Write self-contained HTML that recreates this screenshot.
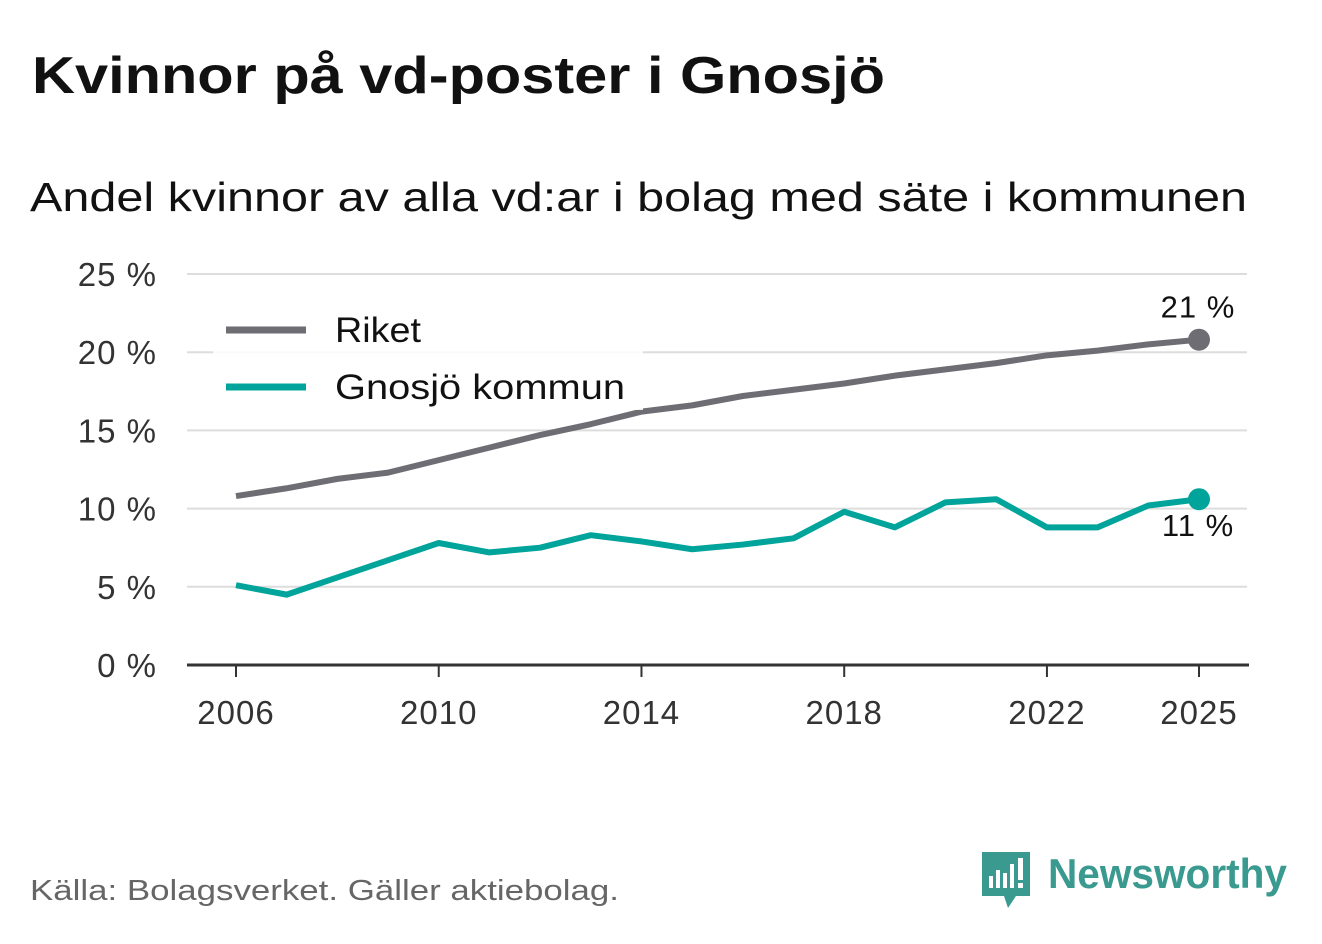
<!DOCTYPE html>
<html><head><meta charset="utf-8"><style>
body{margin:0;background:#fff;}
svg text{font-family:"Liberation Sans",sans-serif;}
</style></head><body>
<svg width="1322" height="939" xmlns="http://www.w3.org/2000/svg">
<text x="32" y="93" font-size="52" font-weight="bold" fill="#111" textLength="853" lengthAdjust="spacingAndGlyphs">Kvinnor på vd-poster i Gnosjö</text>
<text x="30" y="211" font-size="41" fill="#111" textLength="1217" lengthAdjust="spacingAndGlyphs">Andel kvinnor av alla vd:ar i bolag med säte i kommunen</text>
<g id="grid"></g>
<g id="lines"></g>
<g id="legend"></g>
<text x="30" y="900" font-size="29" fill="#666" textLength="589" lengthAdjust="spacingAndGlyphs">Källa: Bolagsverket. Gäller aktiebolag.</text>
<g>
<path d="M982 852 h48 v44 h-14 l-8 12 l-4 -12 h-22 z" fill="#3a9a8f"/>
<rect x="989" y="876" width="4" height="12" fill="#fff"/><rect x="996" y="870" width="4" height="18" fill="#fff"/><rect x="1003" y="873" width="4" height="15" fill="#fff"/><rect x="1010" y="864" width="4" height="24" fill="#fff"/><rect x="1018" y="858" width="5" height="22" fill="#fff"/><rect x="1018" y="883" width="5" height="5" fill="#fff"/>
<text x="1048" y="888" font-size="42" font-weight="bold" fill="#3a9a8f" textLength="239" lengthAdjust="spacingAndGlyphs">Newsworthy</text>
</g>
</svg>
<script>
const years=[2006,2007,2008,2009,2010,2011,2012,2013,2014,2015,2016,2017,2018,2019,2020,2021,2022,2023,2024,2025];
const riket=[10.8,11.3,11.9,12.3,13.1,13.9,14.7,15.4,16.2,16.6,17.2,17.6,18.0,18.5,18.9,19.3,19.8,20.1,20.5,20.8];
const gnosjo=[5.1,4.5,5.6,6.7,7.8,7.2,7.5,8.3,7.9,7.4,7.7,8.1,9.8,8.8,10.4,10.6,8.8,8.8,10.2,10.6];
const yTicks=[0,5,10,15,20,25];
const xTicks=[2006,2010,2014,2018,2022,2025];
const NS="http://www.w3.org/2000/svg";
const X=y=>236+(y-2006)*(1199-236)/19;
const Y=v=>665-v*(665-274)/25;
function mk(t,a,p){const e=document.createElementNS(NS,t);for(const k in a)e.setAttribute(k,a[k]);p.appendChild(e);return e;}
const grid=document.getElementById('grid'),lines=document.getElementById('lines'),lg=document.getElementById('legend');
yTicks.forEach(v=>{
 if(v>0){const l=mk('line',{x1:187,x2:1247,y1:Y(v),y2:Y(v),stroke:'#ddd','stroke-width':2},grid);
 
 }
 const t=mk('text',{x:157,y:Y(v)+12,'font-size':33,fill:'#333','text-anchor':'end','letter-spacing':1},grid);t.textContent=v+' %';
 
 
});
const ax=mk('line',{x1:187,x2:1249,y1:665,y2:665,stroke:'#333','stroke-width':3},grid);


xTicks.forEach(y=>{
 mk('line',{x1:X(y),x2:X(y),y1:665,y2:677,stroke:'#333','stroke-width':2},grid);
 const t=mk('text',{x:X(y),y:724,'font-size':33,fill:'#333','text-anchor':'middle','letter-spacing':1},grid);t.textContent=y;
 
 
});
function series(vals,col,name){
 const p=mk('polyline',{points:vals.map((v,i)=>X(years[i])+','+Y(v)).join(' '),fill:'none',stroke:col,'stroke-width':6,'stroke-linejoin':'round'},lines);
 
 
 const n=vals.length-1;
 const c=mk('circle',{cx:X(years[n]),cy:Y(vals[n]),r:11,fill:col},lines);
 
 
}
series(riket,'#6e6d74','riket');
series(gnosjo,'#00a49a','gnosjo');
const l1=mk('text',{x:1198,y:Y(riket[19])-22,'font-size':31,fill:'#111','text-anchor':'middle','letter-spacing':1},lines);l1.textContent=Math.round(riket[19])+' %';


const l2=mk('text',{x:1198,y:Y(gnosjo[19])+37,'font-size':31,fill:'#111','text-anchor':'middle','letter-spacing':1},lines);l2.textContent=Math.round(gnosjo[19])+' %';


mk('rect',{x:213,y:300,width:430,height:110,fill:'#fff',opacity:0.85},lg);
[['Riket','#6e6d74',330,86],['Gnosjö kommun','#00a49a',387,290]].forEach(([n,c,y,w])=>{
 mk('line',{x1:226,x2:306,y1:y,y2:y,stroke:c,'stroke-width':7},lg);
 const t=mk('text',{x:335,y:y+12,'font-size':35,fill:'#111',textLength:w,lengthAdjust:'spacingAndGlyphs'},lg);t.textContent=n;
 
 
});
</script>
</body></html>
